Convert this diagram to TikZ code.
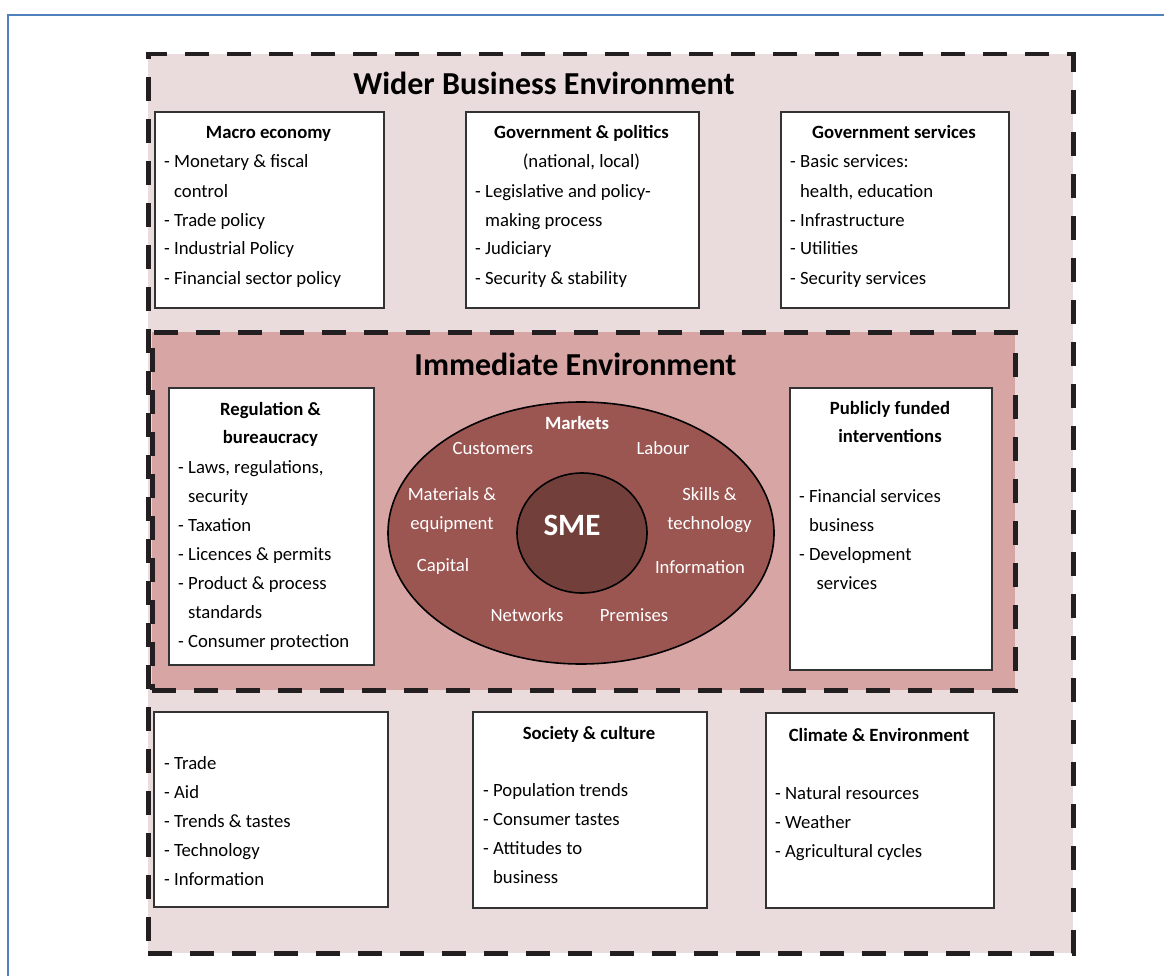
\documentclass[tikz,border=0pt]{standalone}
\usepackage{fontspec}
\setmainfont{Carlito}
\usetikzlibrary{shapes.geometric}
\definecolor{widerfill}{HTML}{EADCDD}
\definecolor{immfill}{HTML}{D8A5A5}
\definecolor{ellfill}{HTML}{9C5652}
\definecolor{smefill}{HTML}{733F3B}
\definecolor{frameblue}{HTML}{4F81BD}
\definecolor{boxline}{HTML}{333333}
\definecolor{dashcol}{HTML}{231F20}
\tikzset{
  envbox/.style={rectangle, inner sep=0pt, anchor=north west, draw=dashcol, line width=4.5pt, dash pattern=on 24pt off 18pt},
  box/.style={draw=boxline, line width=2pt, fill=white, rectangle, inner sep=0pt, anchor=north west},
  boxtitle/.style={font=\fontsize{18.7}{28}\selectfont\bfseries, align=center, anchor=base, inner sep=0pt},
  boxsub/.style={font=\fontsize{18.7}{29}\selectfont, anchor=base, inner sep=0pt},
  boxlist/.style={font=\fontsize{18.7}{29}\selectfont, align=left, anchor=base west, inner sep=0pt},
  envtitle/.style={font=\fontsize{32}{38}\selectfont\bfseries, anchor=base, inner sep=0pt},
  elabel/.style={font=\fontsize{18.7}{29}\selectfont, text=white, align=center, inner sep=0pt},
}
\newcommand{\ind}{\hphantom{- }}
\begin{document}
\begin{tikzpicture}[x=1pt, y=-1pt]
\useasboundingbox (0,0) rectangle (1164,976);
% outer frame (top and left edges)
\draw[frameblue, line width=2pt] (7.5,976) -- (7.5,15) -- (1164,15);

% environments
\node[envbox, fill=widerfill, minimum width=925pt, minimum height=899pt] (wider) at (146,52) {};
\node[envbox, fill=immfill, minimum width=863pt, minimum height=358pt] (imm) at (150,330) {};

\node[envtitle] (widertitle) at (544,95) {Wider Business Environment};
\node[envtitle] (immtitle) at (575.5,375) {Immediate Environment};

% top row (multi-line nodes: base = baseline of last line)
\node[box, minimum width=229pt, minimum height=196pt] (macro) at (154,111) {};
\node[boxtitle] (macrot) at (268.5,139) {Macro economy};
\node[boxlist] (macrol) at (164,284) {- Monetary \& fiscal\\\ind control\\- Trade policy\\- Industrial Policy\\- Financial sector policy};

\node[box, minimum width=233pt, minimum height=196pt] (govpol) at (465,111) {};
\node[boxtitle] (govpolt) at (581.5,139) {Government \& politics};
\node[boxsub] (govpols) at (581.5,168) {(national, local)};
\node[boxlist] (govpoll) at (475,284) {- Legislative and policy-\\\ind making process\\- Judiciary\\- Security \& stability};

\node[box, minimum width=228pt, minimum height=196pt] (govserv) at (780,111) {};
\node[boxtitle] (govservt) at (894,139) {Government services};
\node[boxlist] (govservl) at (790,284) {- Basic services:\\\ind health, education\\- Infrastructure\\- Utilities\\- Security services};

% middle row
\node[box, minimum width=205pt, minimum height=277pt] (reg) at (168,387) {};
\node[boxtitle] (regt) at (270.5,443) {Regulation \&\\bureaucracy};
\node[boxlist] (regl) at (178,647) {- Laws, regulations,\\\ind security\\- Taxation\\- Licences \& permits\\- Product \& process\\\ind standards\\- Consumer protection};

\node[box, minimum width=202pt, minimum height=282pt] (pub) at (789,387) {};
\node[boxtitle] (pubt) at (890,442) {Publicly funded\\interventions};
\node[boxlist] (publ) at (799,589) {- Financial services\\\ind business\\- Development\\\ind\, services};

% markets ellipse
\node[ellipse, draw=black, line width=1.6pt, fill=ellfill, minimum width=386pt, minimum height=262pt, inner sep=0pt] (markets) at (581,533) {};
\node[ellipse, draw=black, line width=1.6pt, fill=smefill, minimum width=130pt, minimum height=120pt, inner sep=0pt] (sme) at (582,533) {};
\node[elabel, font=\fontsize{31}{36}\selectfont\bfseries] (smet) at (572,525) {SME};
\node[elabel, font=\fontsize{18.7}{29}\selectfont\bfseries] (mkt) at (577,423) {Markets};
\node[elabel] (cust) at (493,448) {Customers};
\node[elabel] (lab) at (663,448) {Labour};
\node[elabel] (mat) at (452,510.5) {Materials \&\\equipment};
\node[elabel] (skl) at (709.5,510.5) {Skills \&\\technology};
\node[elabel] (cap) at (443,567) {Capital};
\node[elabel] (inf) at (700,567) {Information};
\node[elabel] (net) at (527,615) {Networks};
\node[elabel] (prem) at (634,615) {Premises};

% bottom row
\node[box, minimum width=234pt, minimum height=195pt] (ext) at (153,711) {};
\node[boxlist] (extl) at (164,885) {- Trade\\- Aid\\- Trends \& tastes\\- Technology\\- Information};

\node[box, minimum width=234pt, minimum height=196pt] (soc) at (472,711) {};
\node[boxtitle] (soct) at (589,739) {Society \& culture};
\node[boxlist] (socl) at (483,883) {- Population trends\\- Consumer tastes\\- Attitudes to\\\ind business};

\node[box, minimum width=228pt, minimum height=195pt] (clim) at (765,712) {};
\node[boxtitle] (climt) at (879,741) {Climate \& Environment};
\node[boxlist] (climl) at (775,857) {- Natural resources\\- Weather\\- Agricultural cycles};
\end{tikzpicture}
\end{document}
